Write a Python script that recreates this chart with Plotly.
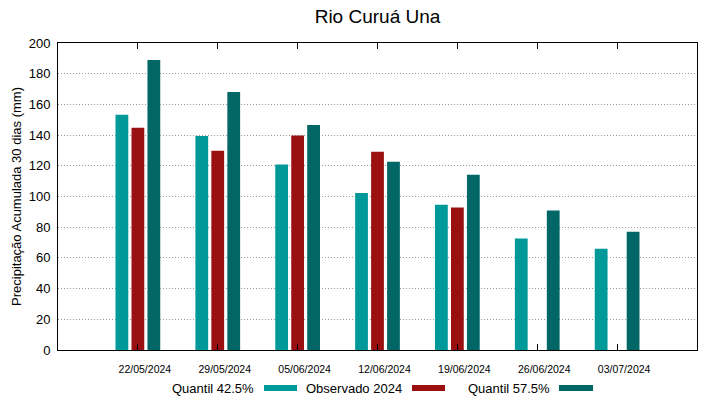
import plotly.graph_objects as go

dates = ["22/05/2024", "29/05/2024", "05/06/2024", "12/06/2024",
         "19/06/2024", "26/06/2024", "03/07/2024"]
q425 = [153.3, 139.4, 120.9, 102.3, 94.7, 72.7, 66.0]
obs2024 = [144.8, 129.8, 139.8, 129.2, 92.9, None, None]
q575 = [189.0, 168.0, 146.6, 122.7, 114.2, 90.9, 77.0]
series_names = ["Quantil 42.5%", "Observado 2024", "Quantil 57.5%"]

colors = ["#009999", "#9a1010", "#006666"]
pos = list(range(1, len(dates) + 1))

W, H = 719, 399
L, R, T, B = 58, 697, 43, 350

fig = go.Figure()
bw = 0.16
offsets = [-0.28, -0.08, 0.12]
for name, vals, col, off in zip(series_names, [q425, obs2024, q575], colors, offsets):
    fig.add_trace(go.Bar(x=pos, y=vals, name=name, marker=dict(color=col, line=dict(width=0)),
                         width=bw, offset=off, showlegend=False))

font = "Liberation Sans, Arial, sans-serif"
fig.update_layout(
    width=W, height=H,
    margin=dict(l=L, r=W - R, t=T, b=H - B, autoexpand=False),
    plot_bgcolor="white", paper_bgcolor="white",
    barmode="overlay",
    font=dict(family=font, color="black", size=13),
    title=dict(text="Rio Curuá Una", x=(L + R) / 2 / W, xanchor="center", automargin=False,
               y=1 - 16 / H, yanchor="middle", font=dict(size=19, family=font)),
    xaxis=dict(range=[0, 8], tickvals=pos, ticktext=dates, tickfont=dict(size=10.5),
               showgrid=False, showline=True, linecolor="black", linewidth=1, mirror="ticks",
               ticks="inside", ticklen=6, tickcolor="black", zeroline=False, automargin=False,
               ticklabelshift=7, ticklabelstandoff=9),
    yaxis=dict(range=[0, 200], dtick=20, showgrid=True, gridcolor="#9a9a9a", griddash="1px,2px",
               gridwidth=1, showline=True, linecolor="black", linewidth=1, mirror=True,
               ticks="", zeroline=False, tickfont=dict(size=13), automargin=False,
               ticklabelstandoff=4,
               title=dict(text="Precipitação Acumulada 30 dias (mm)", font=dict(size=13), standoff=4)),
)

def px_x(p):
    return (p - L) / (R - L)

def px_y(p):
    return (B - p) / (B - T)

legend_y = 388
text_right = [256, 404, 552]
sw = [(264, 297), (412, 445), (559, 593)]
for name, col, tr, (s0, s1) in zip(series_names, colors, text_right, sw):
    fig.add_annotation(x=px_x(tr), y=px_y(legend_y), xref="paper", yref="paper",
                       text=name, showarrow=False, xanchor="right", yanchor="middle",
                       font=dict(size=13, family=font))
    fig.add_shape(type="rect", xref="paper", yref="paper",
                  x0=px_x(s0), x1=px_x(s1), y0=px_y(legend_y + 3), y1=px_y(legend_y - 3),
                  fillcolor=col, line=dict(width=0))

fig.write_html("out.html", config={"displayModeBar": False},
               post_script="document.body.style.margin='0';document.body.style.overflow='hidden';")
